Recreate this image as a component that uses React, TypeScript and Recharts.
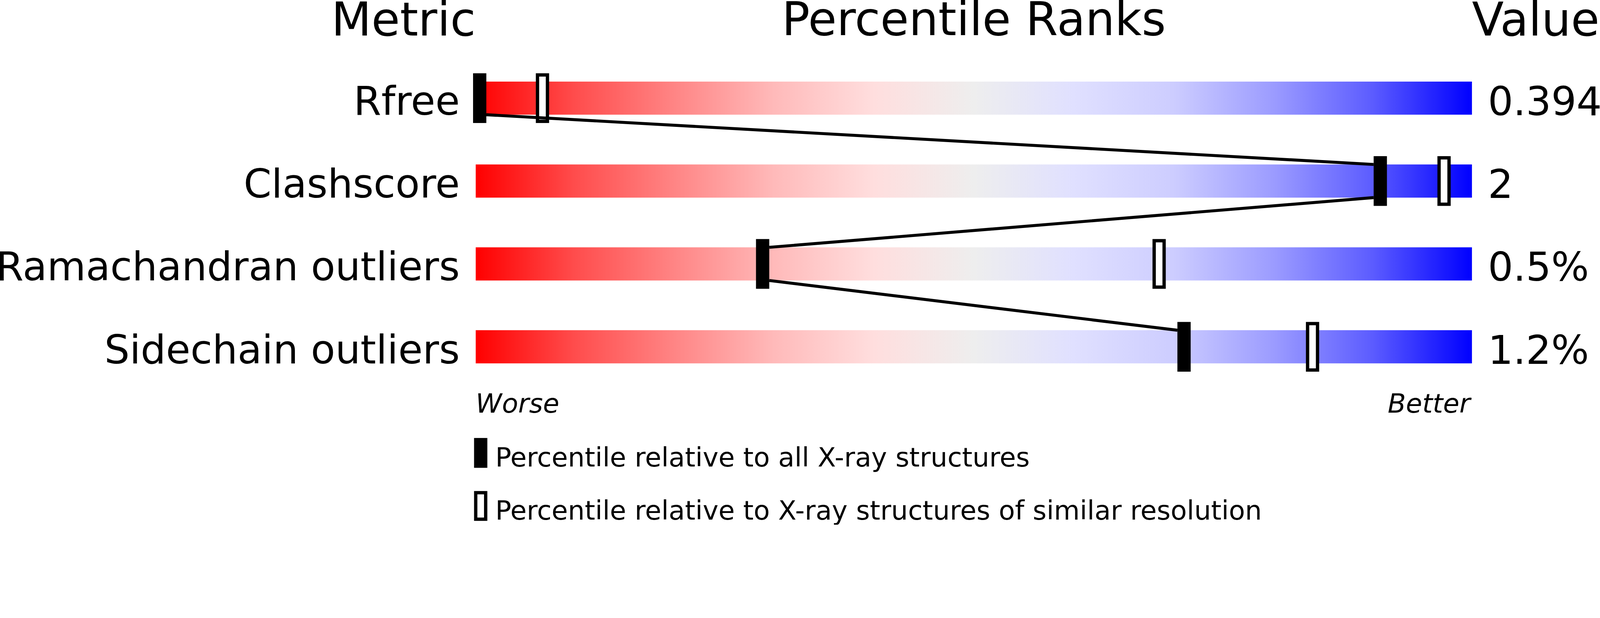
import React from 'react';
import { ComposedChart, Bar, Scatter, XAxis, YAxis, LabelList, Legend } from 'recharts';

// values
const metrics = ['Rfree', 'Clashscore', 'Ramachandran outliers', 'Sidechain outliers'];
const valueLabels = ['0.394', '2', '0.5%', '1.2%'];
const percentileAll = [0.4, 90.8, 28.8, 71.1];
const percentileSimilar = [6.7, 97.2, 68.6, 84.0];
const scaleEnds = ['Worse', 'Better'];
const headings = ['Metric', 'Percentile Ranks', 'Value'];
const legendLabels = [
  'Percentile relative to all X-ray structures',
  'Percentile relative to X-ray structures of similar resolution',
];

const FONT = '"DejaVu Sans", sans-serif';
const WIDTH = 4823;
const HEIGHT = 1583;
const PLOT_LEFT = 1434;
const PLOT_RIGHT = 4437;
const BAR_H = 100;
const MARK_W = 40;
const MARK_H = 150;

const rows = metrics.map((metric, i) => ({
  metric,
  full: 100,
  value: valueLabels[i],
  all: percentileAll[i],
  similar: percentileSimilar[i],
}));

const gradientStops: [number, string][] = [
  [0, '#ff0000'],
  [0.1, '#ff4d4d'],
  [0.2, '#ff8585'],
  [0.3, '#ffbaba'],
  [0.4, '#ffdede'],
  [0.5, '#eeeeee'],
  [0.6, '#e0e0ff'],
  [0.7, '#cdcdff'],
  [0.8, '#9c9cff'],
  [0.9, '#5c5cff'],
  [1, '#0000ff'],
];

function MetricTick({ x, y, payload }: any) {
  return (
    <text x={x} y={y + 50} textAnchor="end" fontSize={120} fontFamily={FONT} fill="#000">
      {payload.value}
    </text>
  );
}

function EndTick({ x, y, payload }: any) {
  const isStart = payload.value === 0;
  return (
    <text
      x={isStart ? x : x - 5}
      y={y + 74}
      textAnchor={isStart ? 'start' : 'end'}
      fontStyle="italic"
      fontSize={80}
      fontFamily={FONT}
      fill="#000"
    >
      {isStart ? scaleEnds[0] : scaleEnds[1]}
    </text>
  );
}

function ValueLabel({ x, y, width, height, value }: any) {
  return (
    <text x={x + width + 48} y={y + height / 2 + 51} fontSize={120} fontFamily={FONT} fill="#000">
      {value}
    </text>
  );
}

function FilledMarker({ cx, cy }: any) {
  return <rect x={cx - MARK_W / 2} y={cy - MARK_H / 2} width={MARK_W} height={MARK_H} fill="#000" />;
}

function OutlineMarker({ cx, cy }: any) {
  return (
    <rect
      x={cx - MARK_W / 2 + 5}
      y={cy - MARK_H / 2 + 5}
      width={MARK_W - 10}
      height={MARK_H - 10}
      fill="#fff"
      stroke="#000"
      strokeWidth={10}
    />
  );
}

// joins the "all structures" markers: bar bottom of one row to bar top of the next
function Connector({ points }: any) {
  if (!points || points.length < 2) return null;
  const d = points
    .slice(1)
    .map((b: any, i: number) => {
      const a = points[i];
      const dir = b.x >= a.x ? 1 : -1;
      return `M${a.x + (dir * MARK_W) / 2},${a.y + BAR_H / 2}L${b.x - (dir * MARK_W) / 2},${b.y - BAR_H / 2}`;
    })
    .join('');
  return <path d={d} stroke="#000" strokeWidth={9} fill="none" />;
}

function LegendContent() {
  return (
    <svg width={2300} height={260} style={{ display: 'block', overflow: 'visible' }}>
      <rect x={0} y={0} width={MARK_W} height={90} fill="#000" />
      <text x={64} y={86} fontSize={80} fontFamily={FONT} fill="#000">
        {legendLabels[0]}
      </text>
      <rect x={5} y={165} width={MARK_W - 10} height={80} fill="#fff" stroke="#000" strokeWidth={10} />
      <text x={64} y={246} fontSize={80} fontFamily={FONT} fill="#000">
        {legendLabels[1]}
      </text>
    </svg>
  );
}

export default function App() {
  // the page may be photographed at a device scale other than 1: fit the chart to the viewport
  const scale = typeof window !== 'undefined' && window.innerWidth ? window.innerWidth / WIDTH : 1;
  return (
    <div
      style={{
        position: 'absolute',
        left: 0,
        top: 0,
        width: WIDTH * scale,
        height: HEIGHT * scale,
        overflow: 'hidden',
        background: '#fff',
      }}
    >
      <div style={{ width: WIDTH, height: HEIGHT, transform: `scale(${scale})`, transformOrigin: '0 0' }}>
        <ComposedChart
          width={WIDTH}
          height={HEIGHT}
          data={rows}
          layout="vertical"
          margin={{ top: 171, right: WIDTH - PLOT_RIGHT, bottom: 0, left: 0 }}
        >
          <defs>
            <linearGradient id="slider" x1="0" y1="0" x2="1" y2="0">
              {gradientStops.map(([o, c]) => (
                <stop key={o} offset={o} stopColor={c} />
              ))}
            </linearGradient>
          </defs>
          <XAxis
            type="number"
            domain={[0, 100]}
            ticks={[0, 100]}
            interval={0}
            height={412}
            axisLine={false}
            tickLine={false}
            tickSize={0}
            tickMargin={0}
            tick={<EndTick />}
          />
          <YAxis
            type="category"
            dataKey="metric"
            width={PLOT_LEFT}
            axisLine={false}
            tickLine={false}
            tickSize={0}
            tickMargin={48}
            tick={<MetricTick />}
          />
          <Bar dataKey="full" barSize={BAR_H} fill="url(#slider)" isAnimationActive={false} legendType="none">
            <LabelList dataKey="value" content={<ValueLabel />} />
          </Bar>
          <Scatter dataKey="similar" shape={<OutlineMarker />} isAnimationActive={false} />
          <Scatter
            dataKey="all"
            shape={<FilledMarker />}
            line={(p: any) => <Connector points={p.points} />}
            lineType="joint"
            isAnimationActive={false}
          />
          <Legend
            layout="horizontal"
            align="center"
            verticalAlign="middle"
            content={<LegendContent />}
            wrapperStyle={{ left: 1429, top: 1321, width: 2300, height: 260 }}
          />
          <text x={PLOT_LEFT} y={107} textAnchor="end" fontSize={140} fontFamily={FONT} fill="#000">
            {headings[0]}
          </text>
          <text x={(PLOT_LEFT + PLOT_RIGHT) / 2} y={106} textAnchor="middle" fontSize={140} fontFamily={FONT} fill="#000">
            {headings[1]}
          </text>
          <text x={PLOT_RIGHT} y={107} fontSize={140} fontFamily={FONT} fill="#000">
            {headings[2]}
          </text>
        </ComposedChart>
      </div>
    </div>
  );
}
